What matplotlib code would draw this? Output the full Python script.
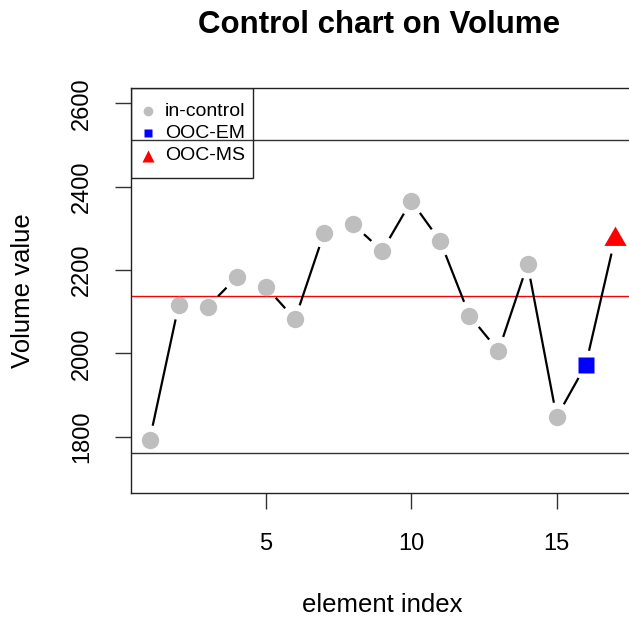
import numpy as np
import matplotlib.pyplot as plt
from matplotlib.patches import Rectangle

plt.rcParams['font.family'] = ['Liberation Sans', 'DejaVu Sans']

# element index and volume values
idx = np.arange(1, 18)
volume = [1792, 2116, 2112, 2183, 2160, 2082, 2289, 2310, 2246, 2366,
          2269, 2091, 2006, 2214, 1847, 1972, 2274]
status = ['in'] * 15 + ['em', 'ms']

ucl = 2512
lcl = 1762
center = 2137

legend_labels = ['in-control', 'OOC-EM', 'OOC-MS']

W, H = 629, 620
ax_l, ax_r, ax_t, ax_b = 131, 633.4, 88, 493

fig = plt.figure(figsize=(W / 100, H / 100), dpi=100)
ax = fig.add_axes([ax_l / W, 1 - ax_b / H, (ax_r - ax_l) / W, (ax_b - ax_t) / H])
ax.set_xlim(0.36, 17.64)
ax.set_ylim(1665, 2637)

# control limits
ax.axhline(ucl, color='#333333', lw=1)
ax.axhline(lcl, color='#333333', lw=1)
ax.axhline(center, color='red', lw=1)

# lines between points with gaps (like R type="b")
gap = 14.7
inv = ax.transData.inverted()
for i in range(len(idx) - 1):
    p0 = ax.transData.transform((idx[i], volume[i]))
    p1 = ax.transData.transform((idx[i + 1], volume[i + 1]))
    d = p1 - p0
    L = np.hypot(d[0], d[1])
    if L > 2 * gap + 3:
        a = inv.transform(p0 + d / L * gap)
        b = inv.transform(p1 - d / L * gap)
        ax.plot([a[0], b[0]], [a[1], b[1]], color='black', lw=1.6,
                solid_capstyle='butt')

tri = [(-1, -0.577), (1, -0.577), (0, 1.155)]
for x, y, s in zip(idx, volume, status):
    if s == 'in':
        ax.plot(x, y, 'o', color='#BEBEBE', ms=12.5, mec='none')
    elif s == 'em':
        ax.plot(x, y, 's', color='blue', ms=12.2, mec='none')
    else:
        ax.plot(x, y, marker=tri, color='red', ms=18.5, mec='none', ls='none')

ax.set_xticks([5, 10, 15])
ax.set_yticks([1800, 2000, 2200, 2400, 2600])
ax.tick_params(axis='both', length=11.5, width=1, labelsize=17, color='#333333')
ax.tick_params(axis='x', pad=17)
ax.tick_params(axis='y', pad=16)
for lab in ax.get_yticklabels():
    lab.set_rotation(90)
    lab.set_va('center')

for sp in ax.spines.values():
    sp.set_color('#222222')
    sp.set_linewidth(1)

ax.set_xlabel('element index', fontsize=18.5, labelpad=28)
ax.set_ylabel('Volume value', fontsize=18.5, labelpad=26)
fig.text(379 / W, 1 - 33 / H, 'Control chart on Volume', ha='center',
         va='baseline', fontsize=22.5, fontweight='bold')

# legend drawn by hand, R style (transparent box)
def ax_xy(px, py):
    return (px - ax_l) / (ax_r - ax_l), (ax_b - py) / (ax_b - ax_t)

x0, y0 = ax_xy(131, 178)
x1, y1 = ax_xy(252.5, 88)
ax.add_patch(Rectangle((x0, y0), x1 - x0, y1 - y0, transform=ax.transAxes,
                       fill=False, edgecolor='#222222', lw=1, zorder=5))
leg_markers = [('o', '#BEBEBE', 7), ('s', 'blue', 6), ('^', 'red', 8.5)]
rows = [111, 133.3, 156]
for (m, c, ms), lab, ry in zip(leg_markers, legend_labels, rows):
    mx, my = ax_xy(148.3, ry)
    ax.plot(mx, my, marker=m, color=c, ms=ms, mec='none', ls='none',
            transform=ax.transAxes, zorder=6)
    tx, ty = ax_xy(165, ry)
    ax.text(tx, ty, lab, transform=ax.transAxes, fontsize=14, va='center',
            ha='left', zorder=6)

fig.savefig('out.png', dpi=100)
